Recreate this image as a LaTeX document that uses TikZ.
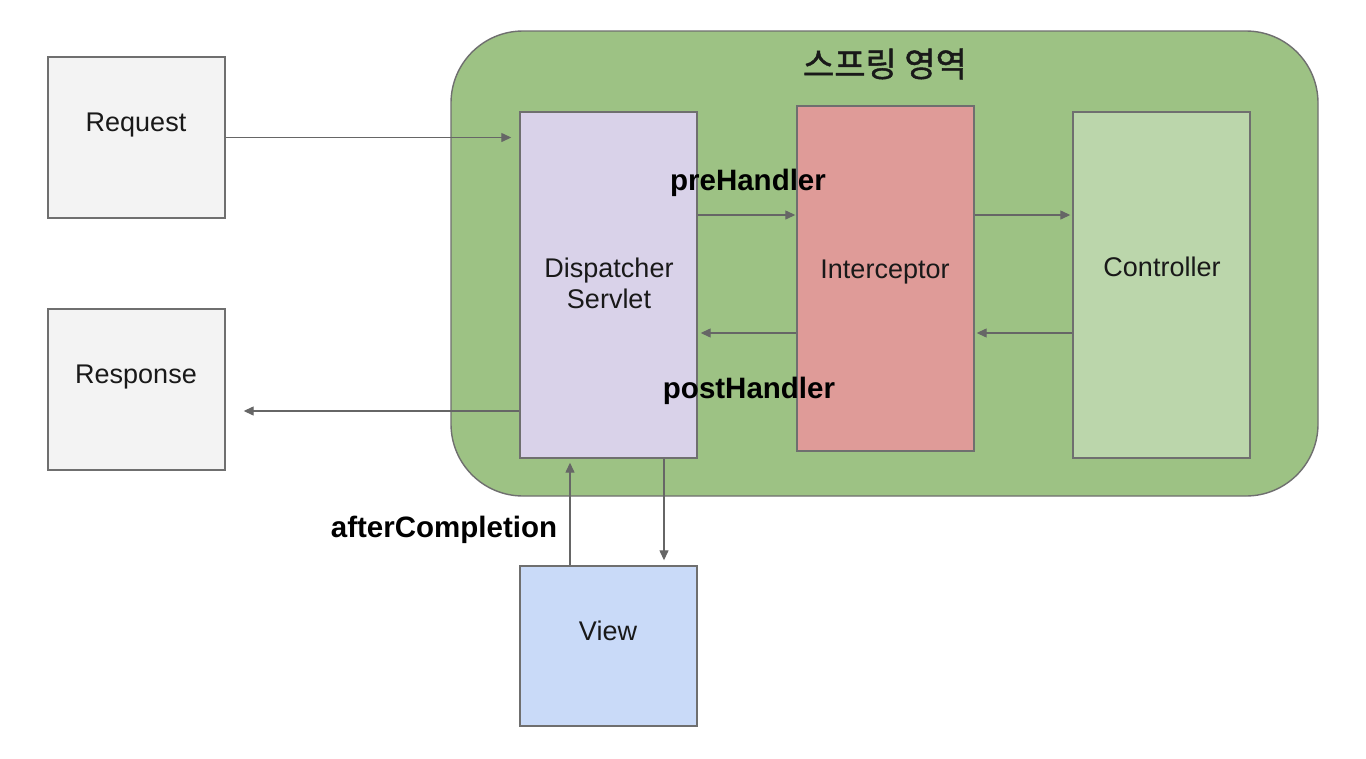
\documentclass[tikz,border=0pt]{standalone}
\usepackage{fontspec}
\setmainfont{Liberation Sans}
\newfontfamily\krfont[FakeBold=1.2]{Noto Sans CJK KR}
\usetikzlibrary{arrows.meta}
\definecolor{bordergray}{HTML}{6F6F6F}
\definecolor{arrowgray}{HTML}{666666}
\definecolor{springgreen}{HTML}{9DC284}
\definecolor{lightgrayfill}{HTML}{F3F3F3}
\definecolor{dispfill}{HTML}{D9D2E9}
\definecolor{intfill}{HTML}{DF9B98}
\definecolor{ctrlfill}{HTML}{BBD6AB}
\definecolor{viewfill}{HTML}{C9DAF8}
\begin{document}
\begin{tikzpicture}[x=1pt,y=-1pt,
  box/.style={draw=bordergray, line width=1.4pt, inner sep=0pt, minimum width=177pt},
  region/.style={draw=bordergray, line width=1.4pt, fill=springgreen, rounded corners=72pt, inner sep=0pt},
  txt/.style={font=\fontsize{27}{31}\selectfont, align=center, text=black!90, inner sep=0pt},
  hook/.style={font=\bfseries\fontsize{29.5}{34}\selectfont, text=black, inner sep=0pt},
  arr/.style={draw=arrowgray, line width=1.3pt, -{Triangle[length=10pt,width=9pt]}}
]
\useasboundingbox (0,0) rectangle (1366,758);
\fill[white] (0,0) rectangle (1366,758);

% spring region
\node[region, minimum width=867pt, minimum height=465pt] (spring) at (884.5,263.5) {};
\node[font=\krfont\fontsize{34}{38}\selectfont, text=black!90, inner sep=0pt] (title) at (885,64) {스프링 영역};

% boxes
\node[box, fill=lightgrayfill, minimum height=161pt] (request) at (136.5,137.5) {};
\node[box, fill=lightgrayfill, minimum height=161pt] (response) at (136.5,389.5) {};
\node[box, fill=dispfill, minimum height=346pt] (dispatcher) at (608.5,285) {};
\node[box, fill=intfill, minimum height=345pt] (interceptor) at (885.5,278.5) {};
\node[box, fill=ctrlfill, minimum height=346pt] (controller) at (1161.5,285) {};
\node[box, fill=viewfill, minimum height=160pt] (view) at (608.5,646) {};

% box texts
\node[txt] (requestT) at (136,125) {Request};
\node[txt] (responseT) at (136,377) {Response};
\node[txt] (dispatcherT) at (609,283) {Dispatcher\\Servlet};
\node[txt] (interceptorT) at (885,272) {Interceptor};
\node[txt] (controllerT) at (1162,267) {Controller};
\node[txt] (viewT) at (608,631) {View};

% hook labels
\node[hook] (pre) at (748,183) {preHandler};
\node[hook] (post) at (749,391) {postHandler};
\node[hook] (after) at (444,530) {afterCompletion};

% levels
\coordinate (lvPre) at (0,215);
\coordinate (lvPost) at (0,333);
\coordinate (lvOut) at (0,411);
\coordinate (vxUp) at (570,0);
\coordinate (vxDown) at (664,0);

% connectors
\draw[arr, shorten >=8pt] (request.east) -- (dispatcher.west |- request.east);
\draw[arr, shorten >=18pt] (dispatcher.west |- lvOut) -- (response.east |- lvOut);
\draw[arr, shorten >=1pt] (dispatcher.east |- lvPre) -- (interceptor.west |- lvPre);
\draw[arr, shorten >=3pt] (interceptor.west |- lvPost) -- (dispatcher.east |- lvPost);
\draw[arr, shorten >=2pt] (interceptor.east |- lvPre) -- (controller.west |- lvPre);
\draw[arr, shorten >=2pt] (controller.west |- lvPost) -- (interceptor.east |- lvPost);
\draw[arr, shorten >=4pt] (view.north -| vxUp) -- (dispatcher.south -| vxUp);
\draw[arr, shorten >=5pt] (dispatcher.south -| vxDown) -- (view.north -| vxDown);
\end{tikzpicture}
\end{document}
